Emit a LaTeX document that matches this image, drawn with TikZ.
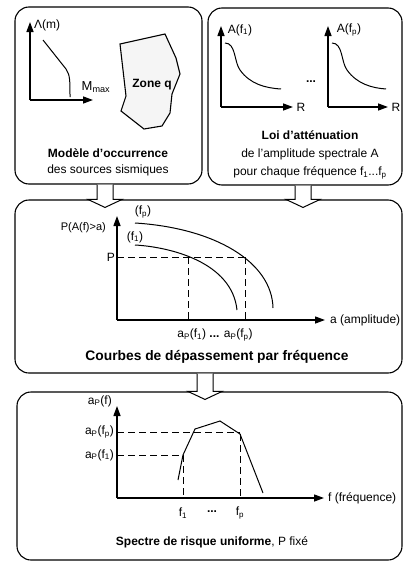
\documentclass[tikz,border=0pt]{standalone}
\usepackage{fontspec}
\setmainfont{Liberation Sans}
\usetikzlibrary{arrows.meta, positioning}

\begin{document}
\begin{tikzpicture}[x=1pt, y=-1pt,
        box/.style={draw, line width=1.1pt, rounded corners=14pt},
        ax/.style={-{Triangle[length=10pt,width=7pt]}, line width=1.3pt},
        crv/.style={line width=1pt},
        dsh/.style={line width=1pt, dash pattern=on 7pt off 4pt},
        blk/.style={draw, fill=white, line width=1pt, line join=miter},
        lbl/.style={inner sep=1pt},
        ttl/.style={align=center, font=\fontsize{12}{16}\selectfont},
        font=\fontsize{12}{14}\selectfont]
      \useasboundingbox (0,0) rectangle (405,562);

      % the four panels
      \node[box, minimum width=187pt, minimum height=177pt] (occ) at (108.5,95.5) {};
      \node[box, minimum width=194pt, minimum height=177pt] (att) at (305,96.5) {};
      \node[box, minimum width=387pt, minimum height=173pt] (cmb) at (208.5,286.5) {};
      \node[box, minimum width=385pt, minimum height=168pt] (spc) at (209.5,476) {};

      % block arrows between panels
      \draw[blk] (97,0 |- occ.south) -- (97,0 |- cmb.north) -- ++(-9,0) -- ++(17,8)
                 -- ++(17,-8) -- ++(-9,0) -- (113,0 |- occ.south);
      \draw[blk] (295,0 |- att.south) -- (295,0 |- cmb.north) -- ++(-9,0) -- ++(17,8)
                 -- ++(17,-8) -- ++(-9,0) -- (311,0 |- att.south);
      \draw[blk] (197,0 |- cmb.south) -- (197,0 |- spc.north) -- ++(-9,0) -- ++(17,8)
                 -- ++(17,-8) -- ++(-9,0) -- (213,0 |- cmb.south);

      % occurrence model
      \coordinate (o1) at (30,100);
      \draw[ax] (o1) -- (30,22);
      \draw[ax] (o1) -- (93,100);
      \node[lbl, anchor=west] (lam) at (33,25) {Λ(m)};
      \node[lbl] (mmax) at (96,87) {\fontsize{13}{14}\selectfont M\textsubscript{max}};
      \draw[crv] (43,40) -- (66,69) .. controls (70,75) and (70,80) .. (70,97);
      \draw[line width=1.1pt, fill=gray!8] (120,44) -- (165,34) -- (176,58) -- (180,74)
            -- (172,94) -- (170,113) -- (162,126) -- (144,129) -- (121,111) -- (126,96) -- cycle;
      \node[lbl, font=\fontsize{12}{14}\selectfont\bfseries] (zq) at (152,85) {Zone q};
      \node[ttl] (occt) at (108,162) {\textbf{Modèle d'occurrence}\\des sources sismiques};

      % attenuation laws
      \coordinate (a1) at (221,107);
      \draw[ax] (a1) -- (221,26);
      \draw[ax] (a1) -- (293,107);
      \node[lbl] (af1) at (240,30) {A(f\textsubscript{1})};
      \node[lbl] (r1) at (301,107) {R};
      \draw[crv] (225,43) .. controls (236,43) and (234,62) .. (240,70)
                 .. controls (250,84) and (265,88) .. (281,89);
      \node[lbl, font=\fontsize{12}{14}\selectfont\bfseries] (dts) at (311,82) {...};
      \coordinate (a2) at (328,107);
      \draw[ax] (a2) -- (328,26);
      \draw[ax] (a2) -- (388,107);
      \node[lbl] (afp) at (349,30) {A(f\textsubscript{p})};
      \node[lbl] (r2) at (396,107) {R};
      \draw[crv] (332,43) .. controls (343,43) and (341,62) .. (347,70)
                 .. controls (357,84) and (372,88) .. (386,89);
      \node[ttl, font=\fontsize{12}{18}\selectfont] (attt) at (310,155)
            {\textbf{Loi d'atténuation}\\de l'amplitude spectrale A\\pour chaque fréquence f\textsubscript{1}...f\textsubscript{p}};

      % exceedance curves
      \coordinate (c0) at (117,320);
      \draw[ax] (c0) -- (117,216);
      \draw[ax] (c0) -- (325,320);
      \node[lbl, anchor=east, font=\fontsize{11}{13}\selectfont] (pa) at (107,228) {P(A(f)>a)};
      \node[lbl] (cfp) at (143,212) {(f\textsubscript{p})};
      \node[lbl] (cf1) at (135,237) {(f\textsubscript{1})};
      \draw[crv] (135,223) .. controls (215,228) and (272,262) .. (273,308);
      \draw[crv] (135,245) .. controls (170,247) and (232,262) .. (237,310);
      \node[lbl, anchor=east] (pp) at (116,257) {P};
      \draw[dsh] (117,257) -- (245,257);
      \draw[dsh] (188,257) -- (188,320);
      \draw[dsh] (245,257) -- (245,320);
      \node[lbl, anchor=west] (amp) at (329,320) {a (amplitude)};
      \node[lbl] (apf) at (215,335) {a\textsubscript{P}(f\textsubscript{1}) \textbf{...} a\textsubscript{P}(f\textsubscript{p})};
      \node[lbl, font=\fontsize{13.8}{15}\selectfont\bfseries] (cmbt) at (217,357) {Courbes de dépassement par fréquence};

      % uniform hazard spectrum
      \coordinate (s0) at (117,498);
      \draw[ax] (s0) -- (117,406);
      \draw[ax] (s0) -- (324,498);
      \node[lbl, anchor=east] (apy) at (113,401) {a\textsubscript{P}(f)};
      \node[lbl, anchor=east] (apfp) at (115,432) {a\textsubscript{P}(f\textsubscript{p})};
      \node[lbl, anchor=east] (apf1) at (115,455) {a\textsubscript{P}(f\textsubscript{1})};
      \draw[crv] (178,480) -- (183,455) -- (195,429) -- (220,421) -- (240,434) -- (263,493);
      \draw[dsh] (117,432) -- (240,432);
      \draw[dsh] (117,455) -- (183,455);
      \draw[dsh] (183,455) -- (183,498);
      \draw[dsh] (240,434) -- (240,498);
      \node[lbl, anchor=west] (frq) at (327,498) {f (fréquence)};
      \node[lbl] (sf1) at (183,513) {f\textsubscript{1}};
      \node[lbl, font=\fontsize{12}{14}\selectfont\bfseries] (sdt) at (212,512) {...};
      \node[lbl] (sfp) at (240,513) {f\textsubscript{p}};
      \node[lbl] (spct) at (212,542) {\textbf{Spectre de risque uniforme}, P fixé};
    \end{tikzpicture}
\end{document}
